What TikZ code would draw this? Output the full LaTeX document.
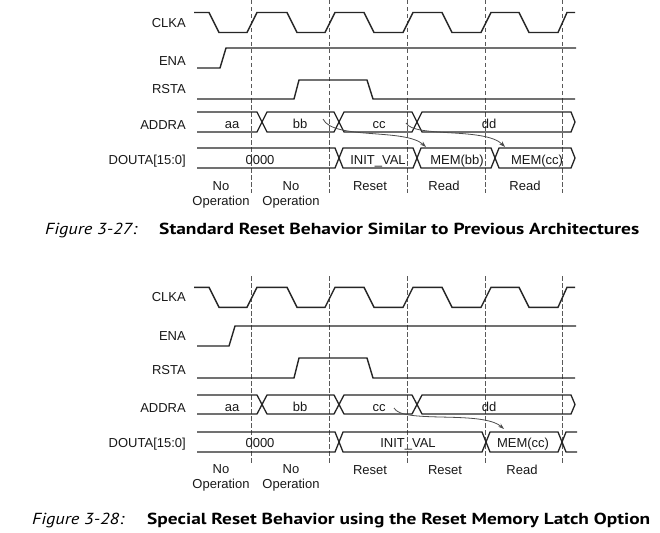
\documentclass[tikz,border=0pt]{standalone}
\usepackage{fontspec}
\setmainfont{Liberation Sans}
\newfontfamily\capfont{PT Sans}
\usetikzlibrary{arrows.meta}
\newsavebox\capbox
\newcommand\fitcap[2]{\sbox\capbox{#2}\resizebox{#1}{\ht\capbox}{\usebox\capbox}}
\begin{document}
\begin{tikzpicture}[x=1pt,y=-1pt,
  wave/.style={line width=1.4pt, line join=miter, black!85},
  bus/.style={line width=1.3pt, line join=miter, black!85},
  gridline/.style={line width=1pt, dash pattern=on 4.5pt off 2.5pt, black!65},
  sig/.style={font=\fontsize{13}{15}\selectfont, text=black!90, inner sep=0pt, anchor=base},
  rowlbl/.style={sig, anchor=base east},
  oplbl/.style={font=\fontsize{13}{14.5}\selectfont, text=black!90, align=center, inner sep=0pt, anchor=north},
  flow/.style={line width=0.8pt, black!70, -{Stealth[length=6pt,width=4pt]}},
  capi/.style={font=\capfont\itshape\fontsize{16}{20}\selectfont, anchor=base west, inner sep=0pt},
  capb/.style={font=\capfont\bfseries\fontsize{16}{20}\selectfont, anchor=base west, inner sep=0pt}]
\useasboundingbox (0,0) rectangle (660,532);
\fill[white] (0,0) rectangle (660,532);

%================ Figure 3-27 ================
\foreach \x in {251,329,407,485,562} \draw[gridline] (\x,0) -- (\x,193);

% CLKA
\draw[wave] (194,12.5) -- (209,12.5) -- (219,32.5) -- (247,32.5) -- (257,12.5) -- (287,12.5) -- (297,32.5)
  -- (325,32.5) -- (335,12.5) -- (364,12.5) -- (374,32.5) -- (403,32.5) -- (413,12.5) -- (442,12.5) -- (452,32.5)
  -- (481,32.5) -- (491,12.5) -- (519,12.5) -- (529,32.5) -- (558,32.5) -- (567,12.5) -- (575,12.5);
% ENA
\draw[wave] (197,68) -- (220,68) -- (226,48) -- (576,48);
% RSTA
\draw[wave] (197,99) -- (294,99) -- (299,80) -- (367,80) -- (373,99) -- (575,99);
% ADDRA
\draw[bus] (197,112) -- (257,112) -- (267,132) -- (334,132) -- (344,112) -- (412,112) -- (422,132) -- (571,132)
  -- (575,122) -- (571,112) -- (422,112) -- (412,132) -- (344,132) -- (334,112) -- (267,112) -- (257,132) -- (197,132);
% DOUTA
\draw[bus] (197,148) -- (335,148) -- (343,168) -- (413,168) -- (421,148) -- (491,148) -- (499,168) -- (571,168)
  -- (575,158) -- (571,148) -- (499,148) -- (491,168) -- (421,168) -- (413,148) -- (343,148) -- (335,168) -- (197,168);

\node[rowlbl] (clka1) at (186,27.5) {CLKA};
\node[rowlbl] (ena1) at (186,66) {ENA};
\node[rowlbl] (rsta1) at (186,94) {RSTA};
\node[rowlbl] (addra1) at (186,129) {ADDRA};
\node[rowlbl] (douta1) at (186,164) {DOUTA[15:0]};

\node[sig] (aa1) at (232,128.5) {aa};
\node[sig] (bb1) at (300,128.5) {bb};
\node[sig] (cc1) at (379,128.5) {cc};
\node[sig] (dd1) at (489,128.5) {dd};
\node[sig] (d01) at (260,164) {0000};
\node[sig] (iv1) at (378,164) {INIT\_VAL};
\node[sig] (mb1) at (457,164) {MEM(bb)};
\node[sig] (mc1) at (537,164) {MEM(cc)};

\node[oplbl] (op11) at (221,181.5) {No\\Operation};
\node[oplbl] (op12) at (291,181.5) {No\\Operation};
\node[sig] (op13) at (370,190.5) {Reset};
\node[sig] (op14) at (444,190.5) {Read};
\node[sig] (op15) at (525,190.5) {Read};

\coordinate (a1s) at (323,119);
\coordinate (a1e) at (426,147);
\coordinate (a2s) at (406,123);
\coordinate (a2e) at (505,147);
\draw[flow] (a1s) .. controls (333,140) and (405,128) .. (a1e);
\draw[flow] (a2s) .. controls (414,138) and (485,127) .. (a2e);

\node[capi] (fig27) at (45,234.5) {\fitcap{92pt}{Figure 3-27:}};
\node[capb] (cap27) at (159,234.5) {\fitcap{480pt}{Standard Reset Behavior Similar to Previous Architectures}};

%================ Figure 3-28 ================
\foreach \x in {251,329,407,485,562} \draw[gridline] (\x,276) -- (\x,464);

% CLKA
\draw[wave] (194,287.3) -- (209,287.3) -- (219,307.3) -- (247,307.3) -- (257,287.3) -- (287,287.3) -- (297,307.3)
  -- (325,307.3) -- (335,287.3) -- (364,287.3) -- (374,307.3) -- (403,307.3) -- (413,287.3) -- (442,287.3) -- (452,307.3)
  -- (481,307.3) -- (491,287.3) -- (519,287.3) -- (529,307.3) -- (558,307.3) -- (567,287.3) -- (575,287.3);
% ENA
\draw[wave] (197,346) -- (229,346) -- (235,326) -- (576,326);
% RSTA
\draw[wave] (197,378) -- (294,378) -- (299,358) -- (367,358) -- (373,378) -- (575,378);
% ADDRA
\draw[bus] (197,395) -- (257,395) -- (267,414) -- (334,414) -- (344,395) -- (412,395) -- (422,414) -- (571,414)
  -- (575,404.5) -- (571,395) -- (422,395) -- (412,414) -- (344,414) -- (334,395) -- (267,395) -- (257,414) -- (197,414);
% DOUTA
\draw[bus] (197,432) -- (335,432) -- (343,452) -- (482,452) -- (490,432) -- (558,432) -- (566,452) -- (577,452);
\draw[bus] (197,452) -- (335,452) -- (343,432) -- (482,432) -- (490,452) -- (558,452) -- (566,432) -- (577,432);

\node[rowlbl] (clka2) at (186,301.5) {CLKA};
\node[rowlbl] (ena2) at (186,340) {ENA};
\node[rowlbl] (rsta2) at (186,374) {RSTA};
\node[rowlbl] (addra2) at (186,412) {ADDRA};
\node[rowlbl] (douta2) at (186,447.5) {DOUTA[15:0]};

\node[sig] (aa2) at (232,411) {aa};
\node[sig] (bb2) at (300,411) {bb};
\node[sig] (cc2) at (379,411) {cc};
\node[sig] (dd2) at (489,411) {dd};
\node[sig] (d02) at (260,447.5) {0000};
\node[sig] (iv2) at (408,447.5) {INIT\_VAL};
\node[sig] (mc2) at (523,447.5) {MEM(cc)};

\node[oplbl] (op21) at (221,464.5) {No\\Operation};
\node[oplbl] (op22) at (291,464.5) {No\\Operation};
\node[sig] (op23) at (370,474) {Reset};
\node[sig] (op24) at (445,474) {Reset};
\node[sig] (op25) at (522,474) {Read};

\coordinate (b1s) at (394,408);
\coordinate (b1e) at (504,429);
\draw[flow] (b1s) .. controls (402,424) and (482,410) .. (b1e);

\node[capi] (fig28) at (32,524.5) {\fitcap{92pt}{Figure 3-28:}};
\node[capb] (cap28) at (147,524.5) {\fitcap{503pt}{Special Reset Behavior using the Reset Memory Latch Option}};
\end{tikzpicture}
\end{document}
